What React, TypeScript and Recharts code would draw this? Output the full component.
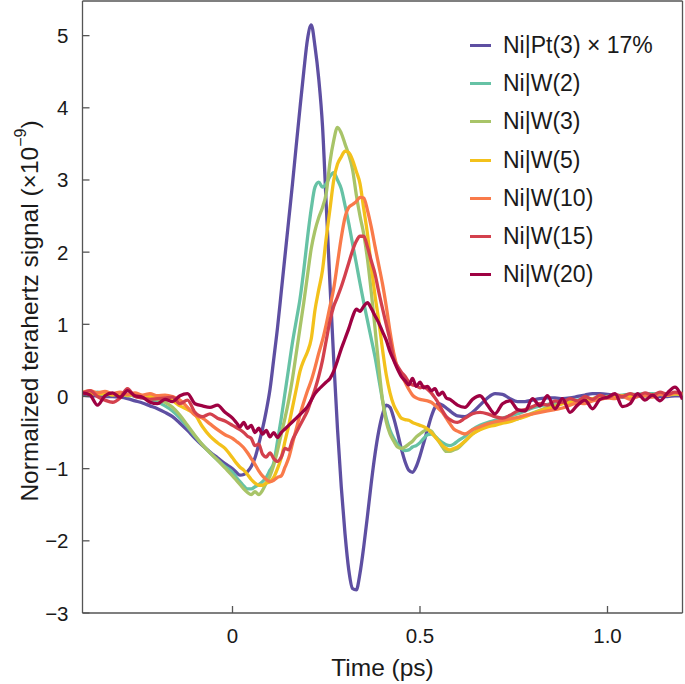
import { LineChart, Line, XAxis, YAxis, Legend, ReferenceLine, Label } from 'recharts'

const FONT = '"Liberation Sans", Arial, sans-serif'
const AXIS = '#555'
const INK = '#1a1a1a'

// time (ps): coarse on the wings, 0.01 ps steps around the pulse
const time = [
  -0.4, -0.38, -0.36, -0.34, -0.32, -0.3, -0.28, -0.26, -0.24, -0.22,
  -0.2, -0.18, -0.16, -0.14, -0.12, -0.1, -0.08, -0.06, -0.04, -0.02,
  0, 0.01, 0.02, 0.03, 0.04, 0.05, 0.06, 0.07, 0.08, 0.09,
  0.1, 0.11, 0.12, 0.13, 0.14, 0.15, 0.16, 0.17, 0.18, 0.19,
  0.2, 0.21, 0.22, 0.23, 0.24, 0.25, 0.26, 0.27, 0.28, 0.29,
  0.3, 0.31, 0.32, 0.33, 0.34, 0.35, 0.36, 0.37, 0.38, 0.39,
  0.4, 0.41, 0.42, 0.43, 0.44, 0.45, 0.46, 0.47, 0.48, 0.49,
  0.5, 0.51, 0.52, 0.53, 0.54, 0.55, 0.56, 0.57, 0.58, 0.59,
  0.6,
  0.62, 0.64, 0.66, 0.68, 0.7, 0.72, 0.74, 0.76, 0.78, 0.8,
  0.82, 0.84, 0.86, 0.88, 0.9, 0.92, 0.94, 0.96, 0.98, 1.0,
  1.02, 1.04, 1.06, 1.08, 1.1, 1.12, 1.14, 1.16, 1.18, 1.2,
]

const niPt3 = [
  0.02, 0.01, 0.01, 0.0, 0.0, -0.01, -0.03, -0.06, -0.09, -0.13,
  -0.17, -0.22, -0.28, -0.37, -0.47, -0.58, -0.68, -0.77, -0.85, -0.93,
  -1.0, -1.05, -1.09, -1.08, -1.04, -0.97, -0.85, -0.66, -0.45, -0.2,
  0.1, 0.52, 0.95, 1.45, 1.95, 2.45, 2.95, 3.48, 4.0, 4.5,
  4.95, 5.15, 4.85, 4.4, 3.75, 2.65, 1.55, 0.5, -0.45, -1.25,
  -1.9, -2.4, -2.66, -2.68, -2.45, -2.08, -1.65, -1.2, -0.8, -0.48,
  -0.25, -0.12, -0.15, -0.3, -0.5, -0.72, -0.9, -1.02, -1.05, -0.97,
  -0.82, -0.64, -0.46, -0.28, -0.15, -0.1, -0.12, -0.16, -0.2, -0.24,
  -0.27,
  -0.28, -0.22, -0.12, -0.02, 0.04, 0.03, -0.03, -0.07, -0.07, -0.05,
  -0.03, -0.02, -0.02, -0.03, -0.02, 0.0, 0.02, 0.04, 0.04, 0.03,
  0.01, -0.01, -0.01, 0.0, 0.01, 0.01, 0.0, 0.0, 0.01, 0.01,
]

const niW2 = [
  0.05, 0.04, 0.06, 0.03, 0.04, 0.02, 0.03, 0.0, -0.02, -0.05,
  -0.08, -0.13, -0.2, -0.3, -0.42, -0.55, -0.67, -0.78, -0.88, -0.97,
  -1.05, -1.12, -1.18, -1.24, -1.28, -1.28, -1.25, -1.22, -1.18, -1.12,
  -1.02, -0.92, -0.62, -0.3, 0.05, 0.4, 0.75, 1.05, 1.35, 1.75,
  2.2, 2.6, 2.9, 2.97, 2.9, 2.95, 3.05, 3.1, 3.0, 2.88,
  2.65, 2.4, 2.12, 1.85, 1.57, 1.3, 1.05, 0.8, 0.55, 0.25,
  -0.05, -0.3, -0.47, -0.58, -0.66, -0.72, -0.75, -0.74, -0.7, -0.68,
  -0.64, -0.58, -0.53, -0.52, -0.55, -0.6, -0.64, -0.67, -0.68, -0.66,
  -0.62,
  -0.55, -0.46, -0.4, -0.36, -0.33, -0.3, -0.27, -0.24, -0.2, -0.16,
  -0.13, -0.11, -0.09, -0.07, -0.06, -0.05, -0.04, -0.03, -0.02, 0.0,
  0.01, 0.02, 0.03, 0.03, 0.04, 0.04, 0.03, 0.04, 0.03, 0.04,
]

const niW3 = [
  0.06, 0.03, 0.05, 0.02, 0.04, 0.03, 0.01, 0.02, 0.0, -0.02,
  -0.04, -0.08, -0.15, -0.26, -0.4, -0.54, -0.67, -0.78, -0.88, -0.99,
  -1.1, -1.16, -1.22, -1.28, -1.33, -1.36, -1.32, -1.36, -1.3, -1.2,
  -1.1, -0.95, -0.75, -0.52, -0.3, -0.05, 0.25, 0.6, 0.95, 1.3,
  1.68, 2.05, 2.3, 2.48, 2.62, 2.82, 3.25, 3.55, 3.73, 3.65,
  3.5, 3.35, 3.15, 2.8, 2.5, 2.25, 1.9, 1.45, 0.95, 0.42,
  -0.05, -0.35, -0.52, -0.62, -0.7, -0.72, -0.7, -0.66, -0.62, -0.56,
  -0.52, -0.48, -0.46, -0.48, -0.55, -0.62, -0.7, -0.76, -0.76, -0.74,
  -0.72,
  -0.62, -0.52, -0.45, -0.41, -0.38, -0.36, -0.33, -0.31, -0.27, -0.23,
  -0.19, -0.15, -0.12, -0.1, -0.08, -0.06, -0.04, -0.03, -0.02, -0.01,
  0.0, 0.01, 0.02, 0.02, 0.03, 0.02, 0.03, 0.02, 0.03, 0.03,
]

const niW5 = [
  0.04, 0.05, 0.03, 0.05, 0.02, 0.04, 0.02, 0.03, 0.01, 0.0,
  -0.01, -0.03, -0.06, -0.13, -0.18, -0.25, -0.42, -0.55, -0.64, -0.72,
  -0.85, -0.92, -0.98, -1.02, -1.08, -1.15, -1.2, -1.23, -1.23, -1.2,
  -1.18, -1.12, -1.0, -0.85, -0.62, -0.4, -0.15, 0.1, 0.35, 0.5,
  0.62, 0.8, 1.2, 1.48, 1.75, 2.2, 2.6, 3.0, 3.22, 3.32,
  3.4, 3.38, 3.28, 3.12, 2.95, 2.6, 2.25, 1.8, 1.4, 1.05,
  0.65, 0.3, 0.05, -0.12, -0.22, -0.3, -0.32, -0.33, -0.36, -0.38,
  -0.4, -0.42, -0.45, -0.5, -0.56, -0.62, -0.68, -0.72, -0.74, -0.72,
  -0.7,
  -0.62, -0.52, -0.46, -0.42, -0.4, -0.37, -0.35, -0.31, -0.28, -0.24,
  -0.2, -0.17, -0.14, -0.1, -0.08, -0.06, -0.05, -0.03, -0.02, -0.01,
  0.0, 0.01, 0.0, 0.02, 0.01, 0.02, 0.03, 0.02, 0.04, 0.03,
]

const niW10 = [
  0.06, 0.08, 0.05, 0.07, 0.04, 0.06, 0.03, 0.05, 0.02, 0.04,
  0.01, 0.02, 0.0, -0.05, -0.15, -0.26, -0.3, -0.38, -0.46, -0.53,
  -0.58, -0.62, -0.66, -0.71, -0.78, -0.86, -0.94, -1.03, -1.1, -1.15,
  -1.18, -1.16, -1.12, -1.1, -0.98, -0.85, -0.65, -0.45, -0.25, -0.08,
  0.08, 0.22, 0.4, 0.6, 0.78, 1.0, 1.25, 1.5, 1.85, 2.2,
  2.48, 2.62, 2.66, 2.7, 2.76, 2.75, 2.58, 2.35, 2.08, 1.82,
  1.56, 1.25, 0.9, 0.6, 0.4, 0.3, 0.2, 0.1, 0.02, -0.02,
  -0.04, -0.05, -0.06, -0.08, -0.12, -0.17, -0.22, -0.3, -0.38, -0.45,
  -0.48,
  -0.52, -0.46, -0.42, -0.38, -0.35, -0.33, -0.31, -0.29, -0.26, -0.24,
  -0.22, -0.2, -0.18, -0.16, -0.12, -0.09, -0.1, -0.06, -0.04, -0.02,
  -0.03, 0.0, -0.04, 0.0, 0.02, -0.01, 0.03, 0.02, 0.05, 0.04,
]

const niW15 = [
  0.04, 0.08, 0.0, -0.05, -0.08, -0.02, 0.11, 0.0, -0.02, -0.04,
  -0.03, -0.02, -0.01, -0.1, -0.05, -0.22, -0.28, -0.24, -0.3, -0.34,
  -0.4, -0.43, -0.46, -0.5, -0.55, -0.58, -0.68, -0.66, -0.8, -0.84,
  -0.78, -0.86, -0.9, -0.84, -0.72, -0.74, -0.6, -0.5, -0.4, -0.3,
  -0.2, -0.05, 0.1, 0.28, 0.5, 0.78, 1.05, 1.25, 1.38, 1.52,
  1.68, 1.85, 2.02, 2.15, 2.22, 2.22, 2.07, 1.88, 1.7, 1.45,
  1.22, 1.0, 0.78, 0.52, 0.42, 0.34, 0.28, 0.2, 0.16, 0.15,
  0.12, 0.14, 0.1, 0.05, -0.02, -0.1, -0.2, -0.28, -0.32, -0.35,
  -0.36,
  -0.3, -0.24, -0.22, -0.24, -0.28, -0.3, -0.26, -0.2, -0.18, -0.14,
  -0.1, -0.12, -0.06, -0.08, -0.03, -0.06, 0.0, -0.04, 0.02, -0.02,
  0.03, 0.0, 0.04, 0.01, 0.05, 0.02, 0.06, 0.03, 0.06, 0.04,
]

const niW20 = [
  0.05, 0.02, -0.12, 0.01, 0.05, -0.01, 0.08, 0.01, -0.01, -0.08,
  -0.1, -0.04, -0.07, 0.01, 0.04, -0.1, -0.13, -0.15, -0.12, -0.22,
  -0.3, -0.36, -0.42, -0.36, -0.44, -0.4, -0.5, -0.44, -0.52, -0.47,
  -0.56, -0.5, -0.57, -0.5, -0.45, -0.4, -0.35, -0.3, -0.25, -0.2,
  -0.14, -0.05, 0.04, 0.1, 0.15, 0.2, 0.25, 0.35, 0.5, 0.66,
  0.8, 0.94, 1.1, 1.21, 1.18, 1.25, 1.3, 1.22, 1.12, 1.02,
  0.9, 0.78, 0.62, 0.5, 0.38, 0.28, 0.22, 0.16, 0.25, 0.14,
  0.2, 0.12, 0.14, 0.08, 0.11, 0.02, 0.06, -0.02, -0.04, -0.08,
  -0.12,
  -0.15, -0.04, 0.01, -0.12, -0.24, -0.1, -0.06, -0.18, -0.2, -0.03,
  -0.13, 0.01, -0.17, -0.03, -0.22, -0.12, -0.05, -0.17, -0.04, -0.01,
  0.04, -0.14, -0.1, 0.04, -0.05, 0.02, -0.06, 0.05, 0.13, -0.04,
]

const seriesKeys = ['pt3', 'w2', 'w3', 'w5', 'w10', 'w15', 'w20']
const seriesNames = ['Ni|Pt(3) × 17%', 'Ni|W(2)', 'Ni|W(3)', 'Ni|W(5)', 'Ni|W(10)', 'Ni|W(15)', 'Ni|W(20)']
const seriesColors = ['#5E4FA2', '#66C2A5', '#A8C468', '#F3C11B', '#F97A4A', '#D3404D', '#9E0142']
const seriesValues = [niPt3, niW2, niW3, niW5, niW10, niW15, niW20]

const xTicks = [0, 0.5, 1.0]
const xTickLabels = ['0', '0.5', '1.0']
const yTicks = [-3, -2, -1, 0, 1, 2, 3, 4, 5]
const yTickLabels = ['−3', '−2', '−1', '0', '1', '2', '3', '4', '5']

const data = time.map((t, i) => {
  const row: Record<string, number> = { t }
  seriesKeys.forEach((k, j) => {
    row[k] = seriesValues[j][i]
  })
  return row
})

const XTick = ({ x, y, payload }: any) => (
  <g>
    <line x1={x} x2={x} y1={y} y2={y - 7} stroke={AXIS} strokeWidth={1.3} />
    <text x={x} y={y + 22} textAnchor="middle" dominantBaseline="central" fontSize={20.5} fill={INK} fontFamily={FONT}>
      {xTickLabels[xTicks.indexOf(payload.value)]}
    </text>
  </g>
)

const YTick = ({ x, y, payload }: any) => (
  <g>
    <line x1={x} x2={x + 7} y1={y} y2={y} stroke={AXIS} strokeWidth={1.3} />
    <text x={x - 14} y={y} textAnchor="end" dominantBaseline="central" fontSize={20.5} fill={INK} fontFamily={FONT}>
      {yTickLabels[yTicks.indexOf(payload.value)]}
    </text>
  </g>
)

const LegendBox = () => (
  <div style={{ fontFamily: FONT }}>
    {seriesNames.map((name, i) => (
      <div key={name} style={{ display: 'flex', alignItems: 'center', height: 38.3 }}>
        <span style={{ display: 'inline-block', width: 21, height: 3, background: seriesColors[i], marginRight: 12 }} />
        <span style={{ fontSize: 23, color: INK, whiteSpace: 'nowrap' }}>{name}</span>
      </div>
    ))}
  </div>
)

export default function App() {
  return (
    <div style={{ position: 'absolute', left: 0, top: 0, width: 685, height: 684, background: '#fff' }}>
      <LineChart width={685} height={684} data={data} margin={{ top: 1, right: 2.5, bottom: 0, left: 0 }}>
        <XAxis
          dataKey="t"
          type="number"
          domain={[-0.4, 1.2]}
          ticks={xTicks}
          interval={0}
          allowDataOverflow
          height={71}
          tickSize={0}
          tickMargin={0}
          tickLine={false}
          axisLine={{ stroke: AXIS, strokeWidth: 1.3 }}
          tick={<XTick />}
        >
          <Label
            content={({ viewBox }: any) => (
              <text
                x={viewBox.x + viewBox.width / 2}
                y={667}
                textAnchor="middle"
                dominantBaseline="central"
                fontSize={24.5}
                fill={INK}
                fontFamily={FONT}
              >
                Time (ps)
              </text>
            )}
          />
        </XAxis>
        <YAxis
          type="number"
          domain={[-3, 5.48]}
          ticks={yTicks}
          interval={0}
          allowDataOverflow
          width={82.5}
          tickSize={0}
          tickMargin={0}
          tickLine={false}
          axisLine={{ stroke: AXIS, strokeWidth: 1.3 }}
          tick={<YTick />}
        >
          <Label
            content={() => (
              <text
                transform="translate(29, 311) rotate(-90)"
                textAnchor="middle"
                dominantBaseline="central"
                fontSize={24.5}
                fill={INK}
                fontFamily={FONT}
              >
                Normalized terahertz signal (×10
                <tspan dy={-9} fontSize={16}>−9</tspan>
                <tspan dy={9}>)</tspan>
              </text>
            )}
          />
        </YAxis>
        <ReferenceLine y={5.48} stroke={AXIS} strokeWidth={1.3} />
        <ReferenceLine x={1.2} stroke={AXIS} strokeWidth={1.3} />
        {seriesKeys.map((k, i) => (
          <Line
            key={k}
            dataKey={k}
            name={seriesNames[i]}
            type="monotone"
            stroke={seriesColors[i]}
            strokeWidth={3.3}
            dot={false}
            activeDot={false}
            isAnimationActive={false}
          />
        ))}
        <Legend
          layout="vertical"
          align="center"
          verticalAlign="middle"
          content={<LegendBox />}
          wrapperStyle={{ position: 'absolute', top: 26, left: 470, width: 215, height: 270 }}
        />
      </LineChart>
    </div>
  )
}
